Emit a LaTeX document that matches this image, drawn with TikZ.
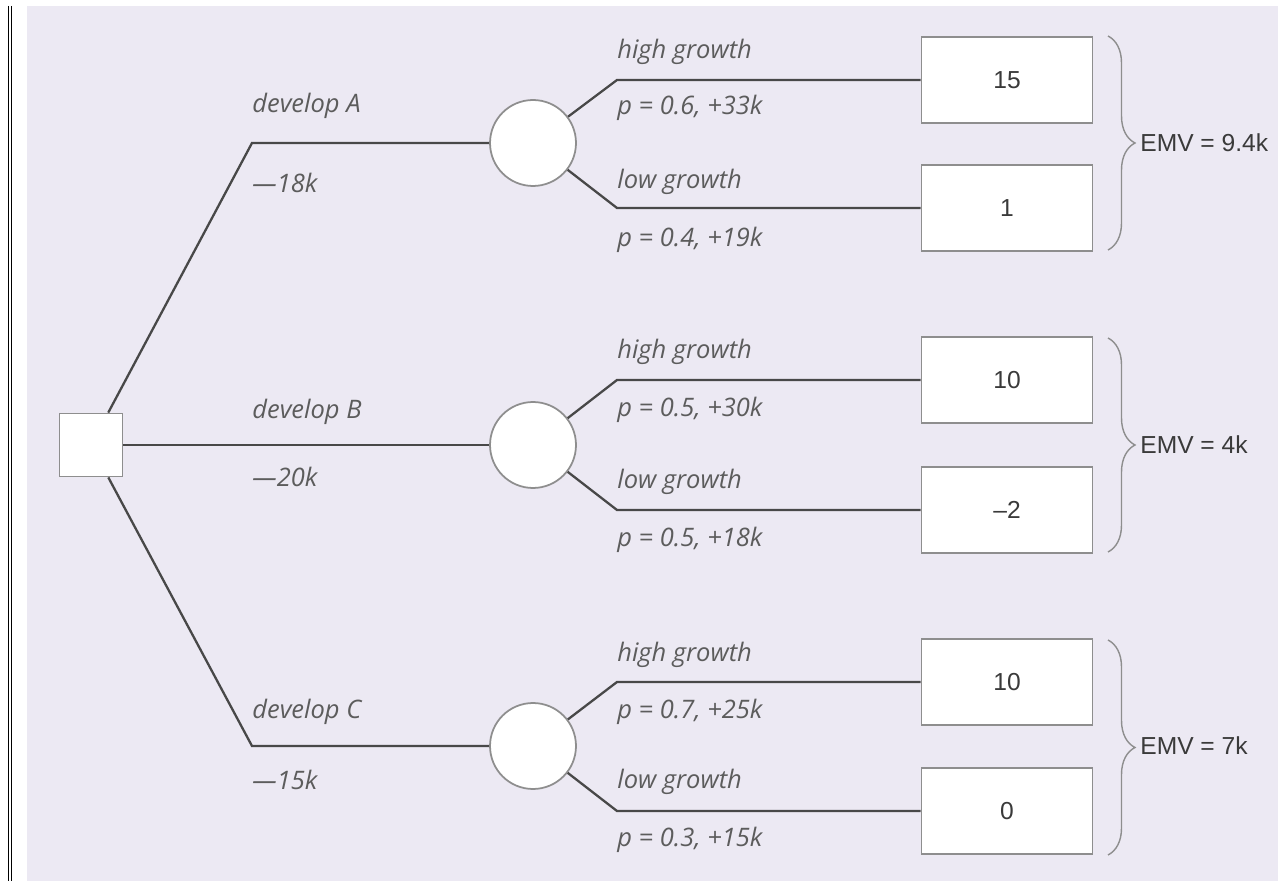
\documentclass[tikz,border=0pt]{standalone}
\usepackage{fontspec}
\setmainfont{Liberation Sans}
\newfontfamily\handfont{Open Sans}
\usetikzlibrary{decorations.pathreplacing}
\definecolor{lavender}{HTML}{ECE9F3}
\definecolor{linegray}{HTML}{484848}
\definecolor{boxgray}{HTML}{8E8E8E}
\definecolor{labelgray}{HTML}{5C5C5C}
\definecolor{numgray}{HTML}{3A3A3A}

\begin{document}
\begin{tikzpicture}[x=0.02cm, y=-0.02cm,
  branch/.style={draw=linegray, line width=1.3pt},
  decision/.style={rectangle, draw=boxgray, fill=white, line width=1pt, minimum size=1.26cm, inner sep=0pt},
  chance/.style={circle, draw=boxgray, fill=white, line width=1pt, minimum size=1.72cm, inner sep=0pt},
  payoff/.style={rectangle, draw=boxgray, fill=white, line width=1pt, minimum width=3.42cm, minimum height=1.72cm, inner sep=0pt, text=numgray, font=\fontsize{14}{16}\selectfont},
  lbl/.style={anchor=west, inner sep=0pt, text=labelgray, font=\handfont\itshape\fontsize{14.5}{16}\selectfont},
  emv/.style={anchor=west, inner sep=0pt, text=numgray, font=\fontsize{14}{16}\selectfont},
  embrace/.style={draw=boxgray, line width=0.8pt, decorate, decoration={brace, amplitude=0.54cm}}]
			%%%%% START %%%%%
			\useasboundingbox (0, 0) rectangle (1278, 881);
			\fill[white] (0, 0) rectangle (1278, 881);
			\fill[lavender] (27, 6) rectangle (1278, 881);
			\draw[line width=0.9pt] (8.5, 6) -- (8.5, 881);
			\draw[line width=0.9pt] (11.5, 6) -- (11.5, 881);
			
			% decision and chance nodes
			\node[decision] (dec) at (91, 445) {};
			\node[chance] (cA) at (533, 143) {};
			\node[chance] (cB) at (533, 445) {};
			\node[chance] (cC) at (533, 746) {};
			
			% payoff boxes
			\node[payoff] (pAh) at (1007, 80) {15};
			\node[payoff] (pAl) at (1007, 208) {1};
			\node[payoff] (pBh) at (1007, 380) {10};
			\node[payoff] (pBl) at (1007, 510) {–2};
			\node[payoff] (pCh) at (1007, 682) {10};
			\node[payoff] (pCl) at (1007, 811) {0};
			
			% bends
			\coordinate (bA) at (252, 143);
			\coordinate (bC) at (252, 746);
			\coordinate (hA) at (617, 80);
			\coordinate (lA) at (617, 208);
			\coordinate (hB) at (617, 380);
			\coordinate (lB) at (617, 510);
			\coordinate (hC) at (617, 682);
			\coordinate (lC) at (617, 811);
			
			\draw[branch] (dec) -- (bA) -- (cA);
			\draw[branch] (dec) -- (cB);
			\draw[branch] (dec) -- (bC) -- (cC);
			\draw[branch] (cA) -- (hA) -- (pAh);
			\draw[branch] (cA) -- (lA) -- (pAl);
			\draw[branch] (cB) -- (hB) -- (pBh);
			\draw[branch] (cB) -- (lB) -- (pBl);
			\draw[branch] (cC) -- (hC) -- (pCh);
			\draw[branch] (cC) -- (lC) -- (pCl);
			
			% option labels
			\node[lbl] (dA) at (252, 106) {develop A};
			\node[lbl] (kA) at (252, 183) {—18k};
			\node[lbl] (dB) at (252, 412) {develop B};
			\node[lbl] (kB) at (252, 477) {—20k};
			\node[lbl] (dC) at (252, 712) {develop C};
			\node[lbl] (kC) at (252, 780) {—15k};
			
			% outcome labels
			\node[lbl] (gAh) at (617, 52) {high growth};
			\node[lbl] (qAh) at (617, 108) {p = 0.6, +33k};
			\node[lbl] (gAl) at (617, 182) {low growth};
			\node[lbl] (qAl) at (617, 240) {p = 0.4, +19k};
			\node[lbl] (gBh) at (617, 352) {high growth};
			\node[lbl] (qBh) at (617, 410) {p = 0.5, +30k};
			\node[lbl] (gBl) at (617, 482) {low growth};
			\node[lbl] (qBl) at (617, 540) {p = 0.5, +18k};
			\node[lbl] (gCh) at (617, 655) {high growth};
			\node[lbl] (qCh) at (617, 712) {p = 0.7, +25k};
			\node[lbl] (gCl) at (617, 782) {low growth};
			\node[lbl] (qCl) at (617, 840) {p = 0.3, +15k};
			
			% expected values
			\draw[embrace] (1108, 36) -- (1108, 250);
			\draw[embrace] (1108, 338) -- (1108, 552);
			\draw[embrace] (1108, 640) -- (1108, 855);
			\node[emv] (eA) at (1140, 143) {EMV = 9.4k};
			\node[emv] (eB) at (1140, 445) {EMV = 4k};
			\node[emv] (eC) at (1140, 746) {EMV = 7k};
			%%%%% END %%%%%
\end{tikzpicture}
\end{document}
